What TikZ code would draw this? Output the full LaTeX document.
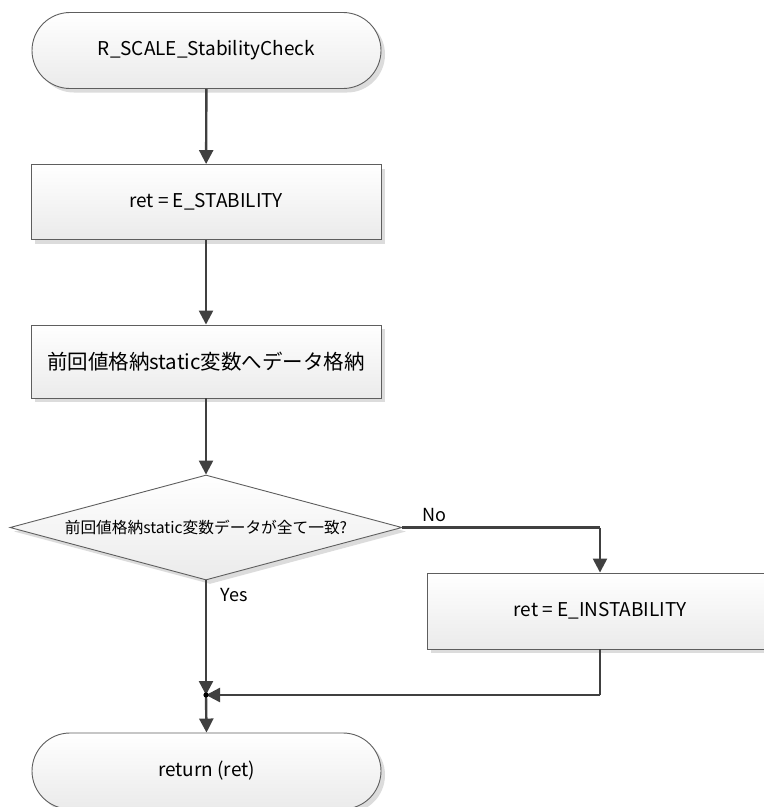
\documentclass[tikz,border=0pt]{standalone}
\usepackage{fontspec}
\setmainfont{Noto Sans CJK JP}
\usetikzlibrary{shapes.geometric,arrows.meta,shadows}
\definecolor{linegray}{HTML}{404040}
\definecolor{edgegray}{HTML}{5E5E5E}
\definecolor{shadowgray}{HTML}{DCDCDC}
\tikzset{
  flowbase/.style={draw=edgegray, line width=0.9pt, top color=white, bottom color=black!8,
    inner sep=0pt, align=center, text=black,
    drop shadow={shadow xshift=4pt, shadow yshift=-4pt, fill=shadowgray, opacity=1}},
  terminal/.style={flowbase, rectangle, rounded corners=38pt, minimum width=349pt, minimum height=76pt,
    font=\fontsize{19pt}{22pt}\selectfont},
  process/.style={flowbase, rectangle, minimum width=350pt, minimum height=75pt,
    font=\fontsize{19pt}{22pt}\selectfont},
  decision/.style={flowbase, diamond, aspect=3.73, minimum width=392pt, minimum height=105pt,
    font=\fontsize{15.7pt}{19pt}\selectfont},
  flow/.style={draw=linegray, line width=2.4pt, -{Triangle[length=14pt,width=14pt]}},
  flowline/.style={draw=linegray, line width=2.4pt},
  branchlabel/.style={font=\fontsize{18pt}{21pt}\selectfont, text=black, inner sep=0pt}
}
\begin{document}
\begin{tikzpicture}[x=1pt, y=-1pt]
  \useasboundingbox (0,0) rectangle (764,807);
  \clip (0,0) rectangle (764,807);

  % nodes
  \node[terminal] (start) at (206.5,50.5) {R\_SCALE\_StabilityCheck};
  \node[process] (init) at (206,202) {ret = E\_STABILITY};
  \node[process, minimum height=73pt, font=\fontsize{20.5pt}{24pt}\selectfont] (store) at (206,361.5)
    {前回値格納static変数へデータ格納};
  \node[decision] (check) at (206,527.5) {前回値格納static変数データが全て一致?};
  \node[process, minimum width=346pt, minimum height=76pt] (unstable) at (600,611) {ret = E\_INSTABILITY};
  \node[terminal] (finish) at (206.5,771) {return (ret)};

  \coordinate (merge) at (206,695);
  \coordinate (nocorner) at (600,527.5);
  \coordinate (retcorner) at (600,695);

  % connectors
  \draw[flow] (start) -- (init);
  \draw[flow] (init) -- (store);
  \draw[flow] (store) -- (check);
  \draw[flowline] (check.east) -- (nocorner);
  \draw[flow] (nocorner) -- (unstable.north);
  \draw[flow] (check.south) -- (merge);
  \draw[flowline] (unstable.south) -- (retcorner);
  \draw[flow] (retcorner) -- (merge);
  \draw[flow] (merge) -- (finish.north);
  \fill[black] (merge) circle (2.6pt);

  % branch labels
  \node[branchlabel] (nolabel) at (434,515) {No};
  \node[branchlabel] (yeslabel) at (234,595) {Yes};
\end{tikzpicture}
\end{document}
